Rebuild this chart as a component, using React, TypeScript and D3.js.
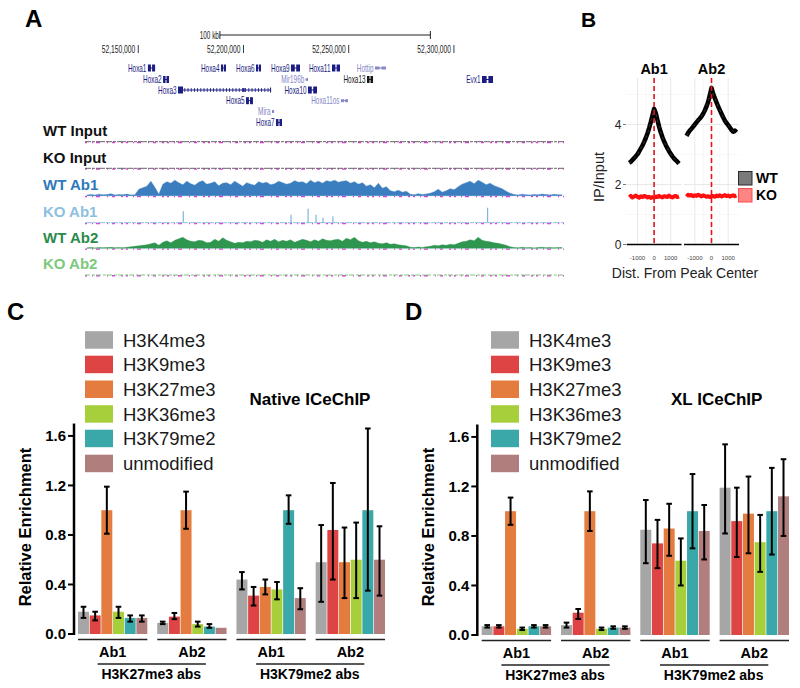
import React from "react";
import * as d3 from "d3";

const FONT = "'Liberation Sans', Arial, Helvetica, sans-serif";

// ---------------- Panel A data ----------------
const genomeStart = 52124700;
const genomeEnd = 52352300;
const coordTicks = [52150000, 52200000, 52250000, 52300000];
const scaleBarStart = 52188800;
const scaleBarLength = 100000;

const geneNames = ["Hoxa1", "Hoxa2", "Hoxa3", "Hoxa4", "Hoxa5", "Hoxa6", "Mira", "Hoxa7", "Hoxa9", "Mir196b", "Hoxa10", "Hoxa11", "Hoxa11os", "Hoxa13", "Hottip", "Evx1"];
const geneStarts = [52154600, 52161800, 52168900, 52189300, 52201200, 52205950, 52213550, 52215450, 52222580, 52229600, 52230660, 52242060, 52246350, 52258700, 52262500, 52313340];
const geneEnds = [52158000, 52164600, 52213100, 52191700, 52204500, 52208330, 52214500, 52218300, 52226860, 52230600, 52234940, 52245860, 52249670, 52261560, 52267700, 52318570];
const geneRows = [0, 1, 2, 0, 3, 0, 4, 5, 0, 1, 2, 0, 3, 1, 0, 1];
const geneKinds = ["coding", "coding", "coding", "coding", "coding", "coding", "nc", "coding", "coding", "nc", "coding", "coding", "nc", "dark", "nc", "coding"];

const trackNames = ["WT Input", "KO Input", "WT Ab1", "KO Ab1", "WT Ab2", "KO Ab2"];

const wtAb1Signal = [
  0.8, 1.2, 0.6, 1.5, 0.9, 1.1, 2.0, 0.7, 1.3, 0.9, 1.6, 0.8, 1.0,
  6.5, 8.0, 9.5, 14.5, 8.5,
  1.5,
  11.5, 14.0, 12.5, 15.5, 13.0, 11.0, 14.5, 12.0, 10.5, 13.5, 15.0, 11.5, 12.5, 14.0, 10.0, 12.5, 13.0, 11.0, 14.5, 12.0, 9.5,
  13.0, 11.5, 10.5, 14.0, 12.5, 13.5, 11.0, 12.0, 14.5, 13.0, 11.5, 12.5, 15.0, 13.5, 14.0, 12.0, 15.5, 13.0, 14.5, 12.5, 15.0,
  14.0, 15.5, 13.5, 14.5, 15.0, 12.5, 14.0, 11.5, 13.0,
  9.5, 11.0, 8.0, 12.5, 7.5, 9.0,
  5.0, 4.0, 5.5, 3.5, 4.5,
  1.5, 1.0, 2.0, 1.2, 1.8, 2.5,
  4.0, 6.5, 3.5, 5.0, 7.0, 6.0,
  9.0, 11.5, 13.0, 14.5, 12.0, 15.5, 13.5, 11.0, 12.5, 10.0, 8.5, 7.0,
  4.5, 2.5,
  1.2, 0.8, 1.5, 1.0, 0.7, 1.3, 0.9, 1.6, 1.1, 0.8, 1.4, 1.0, 0.9,
];

const wtAb2Signal = [
  0.5, 0.8, 0.4, 0.9, 0.6, 0.7, 1.0, 0.5, 0.8, 0.6, 1.0,
  1.5, 2.0, 2.5, 3.0, 3.5, 4.5,
  5.5, 3.0,
  6.0, 7.5, 5.5, 8.0, 9.5, 11.0, 8.5, 7.0, 6.5, 8.0, 7.5, 5.5, 6.0, 9.0, 7.0, 10.5, 8.0, 6.5, 5.0, 6.0, 5.5,
  7.0, 6.5, 8.0, 7.5, 6.0, 8.5, 7.0, 9.0, 6.5, 8.0, 7.0, 8.5, 6.0, 7.5, 9.0, 8.0, 6.5, 8.5, 7.0, 9.5, 8.0,
  7.5, 8.5, 9.0, 7.0, 10.0, 8.5, 11.0, 7.5, 6.0,
  7.0, 5.5, 6.5, 5.0, 4.5, 5.5,
  4.0, 4.5, 3.5, 3.0, 2.5,
  1.0, 0.8, 1.2, 0.9, 1.5, 2.0,
  3.0, 2.5, 3.5, 3.0, 4.0, 3.5,
  5.0, 6.5, 7.0, 8.5, 7.5, 11.0, 8.0, 7.0, 6.5, 5.5, 5.0, 4.0,
  3.0, 1.5,
  0.8, 0.5, 1.0, 0.6, 0.9, 0.4, 0.8, 1.1, 0.6, 0.9, 0.5, 0.8, 0.7,
];

const koAb1PeakPos = [52171400, 52222600, 52230700, 52234500, 52237800, 52242500, 52316000];
const koAb1PeakHeight = [11.5, 8, 14, 8, 5, 6.5, 15];

// ---------------- Panel B data ----------------
const distBins = [-1500, -1400, -1300, -1200, -1100, -1000, -900, -800, -700, -600, -500, -400, -300, -200, -100, 0, 100, 200, 300, 400, 500, 600, 700, 800, 900, 1000, 1100, 1200, 1300, 1400, 1500];
const wtAb1Profile = [2.72, 2.76, 2.82, 2.88, 2.94, 3.01, 3.10, 3.20, 3.30, 3.42, 3.55, 3.70, 3.88, 4.08, 4.30, 4.52, 4.38, 4.15, 3.93, 3.74, 3.58, 3.44, 3.32, 3.21, 3.11, 3.02, 2.94, 2.87, 2.81, 2.76, 2.70];
const wtAb2Profile = [3.62, 3.72, 3.80, 3.86, 3.93, 4.00, 4.07, 4.14, 4.20, 4.27, 4.36, 4.47, 4.60, 4.76, 4.98, 5.22, 5.02, 4.88, 4.74, 4.60, 4.48, 4.36, 4.24, 4.13, 4.05, 3.98, 3.90, 3.82, 3.76, 3.80, 3.74];
const koAb1Profile = [1.58, 1.62, 1.57, 1.60, 1.63, 1.59, 1.56, 1.61, 1.58, 1.62, 1.60, 1.57, 1.59, 1.55, 1.58, 1.56, 1.60, 1.58, 1.62, 1.59, 1.57, 1.61, 1.60, 1.58, 1.63, 1.59, 1.57, 1.60, 1.62, 1.58, 1.60];
const koAb2Profile = [1.60, 1.66, 1.63, 1.65, 1.61, 1.64, 1.62, 1.66, 1.63, 1.60, 1.64, 1.62, 1.59, 1.61, 1.58, 1.60, 1.62, 1.59, 1.63, 1.61, 1.64, 1.60, 1.62, 1.65, 1.61, 1.63, 1.60, 1.62, 1.64, 1.61, 1.63];
const bYTicks = [0, 2, 4];
const bXTicks = [-1000, 0, 1000];
const bXTickLabels = ["-1000", "0", "1000"];

// ---------------- Panels C / D data ----------------
const marks = ["H3K4me3", "H3K9me3", "H3K27me3", "H3K36me3", "H3K79me2", "unmodified"];
const markColors = ["#a6a6a6", "#de4444", "#e37c3e", "#a7cf3b", "#3aa8a8", "#b17e7e"];
const groupIds = ["g1", "g2", "g3", "g4"];
const groupLabels = ["Ab1", "Ab2", "Ab1", "Ab2"];
const abClasses = ["H3K27me3 abs", "H3K79me2 abs"];
const enrichTicks = [0, 0.4, 0.8, 1.2, 1.6];
const enrichTickLabels = ["0.0", "0.4", "0.8", "1.2", "1.6"];

const nativeMean = [
  [0.18, 0.15, 1.0, 0.18, 0.13, 0.13],
  [0.09, 0.14, 1.0, 0.08, 0.06, 0.05],
  [0.44, 0.31, 0.38, 0.36, 1.0, 0.29],
  [0.58, 0.84, 0.58, 0.60, 1.0, 0.60],
];
const nativeLow = [
  [0.13, 0.11, 0.81, 0.13, 0.10, 0.10],
  [0.08, 0.12, 0.85, 0.06, 0.05, 0.05],
  [0.36, 0.23, 0.32, 0.28, 0.89, 0.20],
  [0.26, 0.44, 0.29, 0.29, 0.35, 0.31],
];
const nativeHigh = [
  [0.22, 0.18, 1.19, 0.22, 0.15, 0.15],
  [0.10, 0.17, 1.15, 0.10, 0.08, 0.05],
  [0.50, 0.38, 0.44, 0.42, 1.12, 0.37],
  [0.88, 1.22, 0.86, 0.90, 1.66, 0.87],
];
const xlMean = [
  [0.07, 0.07, 1.0, 0.05, 0.07, 0.07],
  [0.08, 0.18, 1.0, 0.05, 0.06, 0.06],
  [0.85, 0.74, 0.86, 0.60, 1.0, 0.84],
  [1.19, 0.92, 0.98, 0.75, 1.0, 1.12],
];
const xlLow = [
  [0.06, 0.06, 0.89, 0.04, 0.06, 0.06],
  [0.06, 0.13, 0.84, 0.04, 0.05, 0.05],
  [0.58, 0.54, 0.64, 0.40, 0.70, 0.61],
  [0.82, 0.63, 0.66, 0.51, 0.65, 0.80],
];
const xlHigh = [
  [0.08, 0.08, 1.11, 0.06, 0.08, 0.08],
  [0.10, 0.21, 1.16, 0.06, 0.07, 0.07],
  [1.09, 0.93, 1.06, 0.78, 1.30, 1.05],
  [1.54, 1.19, 1.28, 0.97, 1.35, 1.42],
];

// ======================================================
function PanelA() {
  const x = d3.scaleLinear().domain([genomeStart, genomeEnd]).range([85, 564]);
  const rowY = [68, 79.5, 90, 100.7, 111.5, 122.5];
  const trackBase = [141.7, 168.3, 195.7, 222.7, 248.3, 275];
  const trackLabelColors = ["#111", "#111", "#2d79bb", "#8cbfe0", "#2a8a4a", "#7cc87c"];
  const binW = (genomeEnd - genomeStart) / wtAb1Signal.length;
  const binX = (i: number) => x(genomeStart + (i + 0.5) * binW);
  const h = d3.scaleLinear().domain([0, 18]).range([0, 18]);
  const areaFor = (base: number) =>
    d3.area<number>().x((_, i) => binX(i)).y0(base).y1((d) => base - h(d)).curve(d3.curveLinear);
  const geneColor = (k: string) => (k === "nc" ? "#8787c6" : k === "dark" ? "#151515" : "#1c1c82");
  const magentaDash = "2 5 1 3 4 7 1 4 3 6 2 3";

  return (
    <g>
      <text x={25} y={27} fontSize={24} fontWeight="bold">A</text>
      {/* scale bar */}
      <g>
        <text transform={`translate(${x(scaleBarStart) - 1},38.5) scale(0.64,1)`} textAnchor="end" fontSize={10} fill="#222">100 kb</text>
        <line x1={x(scaleBarStart)} x2={x(scaleBarStart + scaleBarLength)} y1={35} y2={35} stroke="#222" strokeWidth={1} />
        <line x1={x(scaleBarStart)} x2={x(scaleBarStart)} y1={31} y2={39} stroke="#222" strokeWidth={1} />
        <line x1={x(scaleBarStart + scaleBarLength)} x2={x(scaleBarStart + scaleBarLength)} y1={31} y2={39} stroke="#222" strokeWidth={1} />
      </g>
      {coordTicks.map((c) => (
        <g key={c}>
          <text transform={`translate(${x(c) - 3},53) scale(0.64,1)`} textAnchor="end" fontSize={10.5} fill="#222">
            {d3.format(",")(c)}
          </text>
          <line x1={x(c)} x2={x(c)} y1={45} y2={53} stroke="#222" strokeWidth={0.9} />
        </g>
      ))}
      {geneNames.map((name, i) => {
        const x1 = x(geneStarts[i]);
        const x2 = x(geneEnds[i]);
        const y = rowY[geneRows[i]];
        const col = geneColor(geneKinds[i]);
        const w = x2 - x1;
        const isLong = w > 40;
        const nc = geneKinds[i] === "nc";
        const bh = nc ? 3 : 7;
        return (
          <g key={name}>
            <text transform={`translate(${x1 - 1.5},${y + 3.5}) scale(0.64,1)`} textAnchor="end" fontSize={10} fill={col}>
              {name}
            </text>
            <line x1={x1} x2={x2} y1={y} y2={y} stroke={col} strokeWidth={1} />
            {isLong ? (
              <g>
                <line x1={x1} x2={x2} y1={y} y2={y} stroke={col} strokeWidth={4} strokeDasharray="0.8 2.4" />
                <rect x={x1} y={y - bh / 2} width={5} height={bh} fill={col} />
                <rect x={x1 + w * 0.7} y={y - 2} width={1.5} height={4} fill={col} />
                <rect x={x2 - 1} y={y - 2.5} width={1} height={5} fill={col} />
              </g>
            ) : (
              <g>
                <rect x={x1} y={y - bh / 2} width={Math.max(1, w * 0.42)} height={bh} fill={col} />
                <rect x={x1 + w * 0.58} y={y - bh / 2} width={Math.max(1, w * 0.42)} height={bh} fill={col} />
              </g>
            )}
          </g>
        );
      })}
      {/* tracks */}
      {trackNames.map((name, i) => (
        <text key={name} x={43} y={trackBase[i] - 11 + 5.4} fontSize={15} fontWeight="bold" fill={trackLabelColors[i]}>
          {name}
        </text>
      ))}
      {/* input tracks */}
      {[0, 1].map((i) => (
        <g key={"in" + i}>
          <line x1={85} x2={564} y1={trackBase[i] + 0.8} y2={trackBase[i] + 0.8} stroke="#e23ce2" strokeWidth={1.4} strokeDasharray={magentaDash} />
          <line x1={85} x2={564} y1={trackBase[i]} y2={trackBase[i]} stroke="#555" strokeWidth={0.9} strokeDasharray="6 1 3 1 9 1" />
        </g>
      ))}
      {/* WT Ab1 */}
      <line x1={85} x2={564} y1={trackBase[2] + 0.8} y2={trackBase[2] + 0.8} stroke="#e23ce2" strokeWidth={1.4} strokeDasharray={magentaDash} />
      <path d={areaFor(trackBase[2])(wtAb1Signal) || ""} fill="#3a7ec0" stroke="#3a7ec0" strokeWidth={0.4} />
      {/* KO Ab1 */}
      <line x1={85} x2={564} y1={trackBase[3] + 0.8} y2={trackBase[3] + 0.8} stroke="#e23ce2" strokeWidth={1.4} strokeDasharray={magentaDash} />
      <line x1={85} x2={564} y1={trackBase[3]} y2={trackBase[3]} stroke="#8cbfe0" strokeWidth={1} strokeDasharray="7 1 4 1" />
      {koAb1PeakPos.map((p, j) => (
        <line key={p} x1={x(p)} x2={x(p)} y1={trackBase[3]} y2={trackBase[3] - h(koAb1PeakHeight[j])} stroke="#7fb5dc" strokeWidth={1.2} />
      ))}
      {/* WT Ab2 */}
      <line x1={85} x2={564} y1={trackBase[4] + 0.8} y2={trackBase[4] + 0.8} stroke="#e23ce2" strokeWidth={1.4} strokeDasharray={magentaDash} />
      <path d={areaFor(trackBase[4])(wtAb2Signal) || ""} fill="#2f9650" stroke="#2f9650" strokeWidth={0.4} />
      {/* KO Ab2 */}
      <line x1={85} x2={564} y1={trackBase[5] + 0.8} y2={trackBase[5] + 0.8} stroke="#e23ce2" strokeWidth={1.4} strokeDasharray={magentaDash} />
      <line x1={85} x2={564} y1={trackBase[5]} y2={trackBase[5]} stroke="#7cc87c" strokeWidth={1} strokeDasharray="5 2 3 1" />
    </g>
  );
}

// ======================================================
function PanelB() {
  const y = d3.scaleLinear().domain([0, 5.55]).range([244.5, 78]);
  const facets = [
    { name: "Ab1", range: [626.7, 681.5], wt: wtAb1Profile, ko: koAb1Profile },
    { name: "Ab2", range: [684, 739], wt: wtAb2Profile, ko: koAb2Profile },
  ];
  const minorY = [1, 3, 5];
  return (
    <g>
      <text x={581} y={27} fontSize={21} fontWeight="bold">B</text>
      {facets.map((f) => {
        const xs = d3.scaleLinear().domain([-1650, 1650]).range(f.range);
        const line = d3.line<number>().x((_, i) => xs(distBins[i])).y((d) => y(d));
        return (
          <g key={f.name}>
            {[-500, 500].map((t) => (
              <line key={"mv" + t} x1={xs(t)} x2={xs(t)} y1={78} y2={244.5} stroke="#f3f3f3" strokeWidth={0.6} />
            ))}
            {minorY.map((t) => (
              <line key={"mh" + t} x1={f.range[0]} x2={f.range[1]} y1={y(t)} y2={y(t)} stroke="#f3f3f3" strokeWidth={0.6} />
            ))}
            {bXTicks.map((t) => (
              <line key={"v" + t} x1={xs(t)} x2={xs(t)} y1={78} y2={244.5} stroke="#e6e6e6" strokeWidth={0.9} />
            ))}
            {bYTicks.map((t) => (
              <line key={"h" + t} x1={f.range[0]} x2={f.range[1]} y1={y(t)} y2={y(t)} stroke="#e6e6e6" strokeWidth={0.9} />
            ))}
            <line x1={f.range[0]} x2={f.range[1]} y1={y(0)} y2={y(0)} stroke="#000" strokeWidth={1.3} />
            <path d={line(f.wt) || ""} fill="none" stroke="#000" strokeWidth={4.5} strokeLinejoin="round" />
            <path d={line(f.wt) || ""} fill="none" stroke="#444" strokeWidth={0.8} strokeDasharray="3 3" />
            <path d={line(f.ko) || ""} fill="none" stroke="#ff1010" strokeWidth={4} strokeLinejoin="round" />
            <line x1={xs(0)} x2={xs(0)} y1={78} y2={244.5} stroke="#e3121b" strokeWidth={1.6} strokeDasharray="5 3" />
            <text x={(f.range[0] + f.range[1]) / 2} y={74} textAnchor="middle" fontSize={14.5} fontWeight="bold">
              {f.name}
            </text>
            {bXTicks.map((t, i) => (
              <text key={"xl" + t} x={xs(t)} y={260} textAnchor="middle" fontSize={6} fill="#444">
                {bXTickLabels[i]}
              </text>
            ))}
          </g>
        );
      })}
      {bYTicks.map((t) => (
        <g key={"yt" + t}>
          <line x1={623} x2={626} y1={y(t)} y2={y(t)} stroke="#555" strokeWidth={0.8} />
          <text x={621.5} y={y(t) + 4.2} textAnchor="end" fontSize={12} fill="#222">
            {t}
          </text>
        </g>
      ))}
      <text transform={`translate(604,177) rotate(-90)`} textAnchor="middle" fontSize={14.5} fill="#222">
        IP/Input
      </text>
      <text x={685} y={278} textAnchor="middle" fontSize={14} fill="#222">
        Dist. From Peak Center
      </text>
      <rect x={738.5} y={171.5} width={13.5} height={13.5} fill="#7a7a7a" stroke="#2a2a2a" strokeWidth={1} />
      <rect x={738.5} y={188.5} width={13.5} height={13.5} fill="#ff8484" stroke="#ff4b4b" strokeWidth={1} />
      <text x={756} y={183.2} fontSize={14} fontWeight="bold">WT</text>
      <text x={756} y={200.2} fontSize={14} fontWeight="bold">KO</text>
    </g>
  );
}

// ======================================================
type BarProps = {
  letter: string;
  letterX: number;
  axisX: number;
  xStart: number;
  xEnd: number;
  zeroY: number;
  title: string;
  titleX: number;
  legendX: number;
  yLabelX: number;
  mean: number[][];
  low: number[][];
  high: number[][];
};

function BarPanel(p: BarProps) {
  const y = d3.scaleLinear().domain([0, 1.7]).range([p.zeroY, p.zeroY - 1.7 * 123.8]);
  const gx = d3.scaleBand().domain(groupIds).range([p.xStart, p.xEnd]).paddingInner(0.125);
  const bx = d3.scaleBand().domain(marks).range([0, gx.bandwidth()]).paddingInner(0.06);
  const legendRows = [340, 364.5, 389.3, 414, 438.5, 463.5];
  const c = (g: string) => (gx(g) as number) + gx.bandwidth() / 2;
  return (
    <g>
      <text x={p.letterX} y={320} fontSize={24} fontWeight="bold">{p.letter}</text>
      {marks.map((m, i) => (
        <g key={m}>
          <rect x={p.legendX} y={legendRows[i] - 8.8} width={28} height={17.5} fill={markColors[i]} />
          <text x={p.legendX + 38} y={legendRows[i] + 6.6} fontSize={18.5} fill="#1a1a1a">{m}</text>
        </g>
      ))}
      <text x={p.titleX} y={405} textAnchor="middle" fontSize={17} fontWeight="bold">{p.title}</text>
      {/* axis */}
      <line x1={p.axisX} x2={p.axisX} y1={y(1.7)} y2={y(0) + 1} stroke="#000" strokeWidth={2.5} />
      {enrichTicks.map((t, i) => (
        <g key={t}>
          <line x1={p.axisX - 6} x2={p.axisX} y1={y(t)} y2={y(t)} stroke="#000" strokeWidth={2} />
          <text x={p.axisX - 8} y={y(t) + 5.4} textAnchor="end" fontSize={15} fontWeight="bold">{enrichTickLabels[i]}</text>
        </g>
      ))}
      <text transform={`translate(${p.yLabelX},527) rotate(-90)`} textAnchor="middle" fontSize={16.5} fontWeight="bold">
        Relative Enrichment
      </text>
      {/* bars */}
      {groupIds.map((g, gi) => (
        <g key={g} transform={`translate(${gx(g)},0)`}>
          {marks.map((m, mi) => {
            const bxm = bx(m) as number;
            const v = p.mean[gi][mi];
            const lo = p.low[gi][mi];
            const hi = p.high[gi][mi];
            const cx = bxm + bx.bandwidth() / 2;
            return (
              <g key={m}>
                <rect x={bxm} y={y(v)} width={bx.bandwidth()} height={y(0) - y(v)} fill={markColors[mi]} />
                {hi - lo > 0.005 && (
                  <g stroke="#000" strokeWidth={2}>
                    <line x1={cx} x2={cx} y1={y(hi)} y2={y(lo)} />
                    <line x1={cx - 2.8} x2={cx + 2.8} y1={y(hi)} y2={y(hi)} />
                    <line x1={cx - 2.8} x2={cx + 2.8} y1={y(lo)} y2={y(lo)} />
                  </g>
                )}
              </g>
            );
          })}
          <line x1={0} x2={gx.bandwidth()} y1={p.zeroY + 5.5} y2={p.zeroY + 5.5} stroke="#222" strokeWidth={1.5} />
          <text x={gx.bandwidth() / 2} y={p.zeroY + 23} textAnchor="middle" fontSize={14.5} fontWeight="bold">
            {groupLabels[gi]}
          </text>
        </g>
      ))}
      {abClasses.map((a, ai) => {
        const l = c(groupIds[ai * 2]) - 15;
        const r = c(groupIds[ai * 2 + 1]) + 14;
        return (
          <g key={a}>
            <line x1={l} x2={r} y1={p.zeroY + 30} y2={p.zeroY + 30} stroke="#222" strokeWidth={1.3} />
            <text x={(c(groupIds[ai * 2]) + c(groupIds[ai * 2 + 1])) / 2 - 1} y={p.zeroY + 45} textAnchor="middle" fontSize={14} fontWeight="bold">
              {a}
            </text>
          </g>
        );
      })}
    </g>
  );
}

export default function App() {
  return (
    <svg width={800} height={688} style={{ position: "absolute", left: 0, top: 0, background: "#fff" }} fontFamily={FONT}>
      <rect x={0} y={0} width={800} height={688} fill="#fff" />
      <PanelA />
      <PanelB />
      <BarPanel letter="C" letterX={7} axisX={74} xStart={78} xEnd={385} zeroY={634} title="Native ICeChIP" titleX={310} legendX={85} yLabelX={31} mean={nativeMean} low={nativeLow} high={nativeHigh} />
      <BarPanel letter="D" letterX={405} axisX={477.3} xStart={481.7} xEnd={789} zeroY={635} title="XL ICeChIP" titleX={716.7} legendX={491} yLabelX={434} mean={xlMean} low={xlLow} high={xlHigh} />
    </svg>
  );
}
